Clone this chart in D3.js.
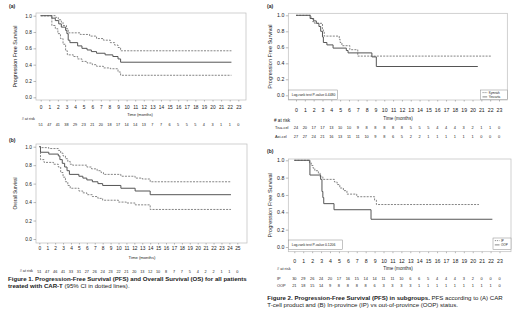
<!DOCTYPE html>
<html>
<head>
<meta charset="utf-8">
<script src="https://cdn.jsdelivr.net/npm/d3@7"></script>
<style>
  body { margin: 0; background: #fff; }
  svg text { font-family: "Liberation Sans", Arial, sans-serif; fill: #222; }
</style>
</head>
<body>
<svg id="chart" width="520" height="314"></svg>
<script>
// Kaplan-Meier steps: [month, survival], last pair marks the end of follow-up
const pfsAllEst = [[0, 1], [1.3, 0.97], [1.7, 0.94], [2.1, 0.9], [2.4, 0.86], [2.9, 0.82], [3.05, 0.78], [3.2, 0.7], [3.4, 0.67], [4.3, 0.63], [4.8, 0.6], [5.4, 0.58], [5.9, 0.56], [6.5, 0.54], [7.5, 0.52], [8.4, 0.5], [9.0, 0.47], [9.3, 0.43], [22.2, 0.43]]
const pfsAllUp = [[0, 1], [1.7, 0.98], [2.05, 0.95], [2.4, 0.92], [2.6, 0.88], [3.0, 0.84], [3.2, 0.79], [4.6, 0.77], [5.7, 0.75], [6.5, 0.72], [7.3, 0.7], [8.1, 0.67], [8.6, 0.64], [9.0, 0.61], [9.3, 0.57], [22.2, 0.57]]
const pfsAllLow = [[0, 1], [1.3, 0.88], [1.7, 0.84], [2.0, 0.78], [2.3, 0.72], [2.6, 0.65], [2.9, 0.57], [3.1, 0.52], [3.8, 0.5], [4.3, 0.47], [4.8, 0.44], [5.4, 0.42], [6.0, 0.4], [6.5, 0.38], [7.3, 0.36], [8.1, 0.35], [9.0, 0.31], [9.3, 0.27], [22.2, 0.27]]

const osAllEst = [[0, 1], [0.15, 0.94], [1.2, 0.92], [2.4, 0.9], [2.6, 0.86], [2.9, 0.82], [3.2, 0.78], [3.5, 0.74], [3.8, 0.7], [5.0, 0.68], [5.5, 0.66], [6.0, 0.64], [6.7, 0.62], [7.4, 0.6], [8.0, 0.58], [10.3, 0.55], [12.1, 0.52], [14.0, 0.48], [24.2, 0.48]]
const osAllUp = [[0, 1], [0.15, 0.99], [1.2, 0.98], [2.4, 0.96], [2.7, 0.93], [3.0, 0.9], [3.3, 0.87], [3.6, 0.84], [3.9, 0.81], [4.2, 0.8], [6.0, 0.78], [6.6, 0.76], [7.3, 0.74], [7.8, 0.72], [8.1, 0.7], [10.3, 0.68], [12.1, 0.66], [13.0, 0.65], [14.0, 0.62], [24.2, 0.62]]
const osAllLow = [[0, 1], [0.15, 0.86], [0.6, 0.83], [1.8, 0.81], [2.4, 0.78], [2.7, 0.72], [3.0, 0.67], [3.3, 0.62], [3.6, 0.58], [3.9, 0.55], [5.0, 0.52], [5.5, 0.5], [6.0, 0.48], [6.7, 0.46], [7.4, 0.44], [8.0, 0.42], [10.0, 0.4], [11.0, 0.39], [12.1, 0.37], [14.0, 0.32], [24.2, 0.32]]

const pfsKymriah = [[0, 1], [1.7, 0.96], [1.9, 0.92], [2.1, 0.9], [3.0, 0.83], [3.1, 0.79], [3.2, 0.74], [4.9, 0.7], [5.0, 0.66], [5.2, 0.62], [6.1, 0.57], [7.0, 0.49], [22.2, 0.49]]
const pfsYescarta = [[0, 1], [1.6, 0.96], [2.0, 0.93], [2.3, 0.9], [2.6, 0.86], [2.8, 0.8], [3.0, 0.73], [3.1, 0.66], [3.5, 0.63], [4.2, 0.59], [5.7, 0.56], [5.9, 0.53], [8.6, 0.48], [9.1, 0.36], [20.6, 0.36]]

const pfsIp = [[0, 1], [1.7, 0.97], [1.9, 0.94], [2.1, 0.91], [2.3, 0.88], [2.7, 0.85], [2.9, 0.81], [3.2, 0.78], [4.5, 0.75], [4.8, 0.72], [5.1, 0.68], [5.5, 0.65], [5.9, 0.61], [7.0, 0.58], [9.0, 0.54], [9.2, 0.49], [20.7, 0.49]]
const pfsOop = [[0, 1], [1.75, 0.83], [2.95, 0.78], [3.1, 0.64], [3.2, 0.57], [3.3, 0.5], [4.45, 0.43], [8.6, 0.32], [22.2, 0.32]]

// numbers at risk
const riskPfsAll = [51, 47, 41, 38, 29, 23, 21, 20, 18, 17, 14, 14, 13, 7, 7, 6, 5, 5, 5, 4, 3, 1, 1, 0]
const riskOsAll = [51, 47, 46, 41, 33, 31, 27, 26, 24, 23, 22, 21, 20, 13, 12, 10, 8, 7, 7, 5, 4, 2, 2, 1, 1, 0]
const riskTisa = [24, 20, 17, 17, 13, 10, 10, 9, 8, 8, 8, 8, 8, 5, 5, 5, 4, 4, 4, 3, 2, 1, 1, 0]
const riskAxi = [27, 27, 24, 21, 16, 13, 11, 11, 10, 9, 8, 6, 5, 2, 2, 1, 1, 1, 1, 1, 1, 0, 0, 0]
const riskIp = [30, 29, 26, 24, 20, 17, 16, 15, 14, 14, 11, 11, 10, 6, 6, 5, 4, 4, 4, 3, 2, 0, 0, 0]
const riskOop = [21, 18, 15, 14, 9, 8, 8, 8, 8, 6, 3, 3, 3, 3, 1, 1, 1, 1, 1, 1, 1, 1, 1, 0]

const yTicks = [0, 0.2, 0.4, 0.6, 0.8, 1.0]

const SOLID = '#555'
const DASHED = '#666'
const DASH = '2,1.2'

const svg = d3.select('#chart')

const panels = [
  {
    tag: '(a)', tagPos: [9, 6],
    frame: { x0: 36, x1: 246, y0: 13, y1: 100 },
    xMax: 23, xRange: [40.7, 238.3], yRange: [97.3, 15.7],
    yTitle: 'Progression Free Survival', yTitleX: 15, fontYTitle: 5.4, fontTick: 4.8,
    tickLabelY: 107, timeTitle: [140, 115], fontTitle: 4,
    riskTitle: { x: 35, y: 118.5, anchor: 'end' },
    rows: [{ values: riskPfsAll, y: 124.5 }], fontRisk: 3.8,
    curves: [
      { data: pfsAllEst, color: SOLID, width: 1 },
      { data: pfsAllUp, color: DASHED, width: 0.8, dash: DASH },
      { data: pfsAllLow, color: DASHED, width: 0.8, dash: DASH }
    ]
  },
  {
    tag: '(b)', tagPos: [9, 140],
    frame: { x0: 36, x1: 247, y0: 144, y1: 243 },
    xMax: 25, xRange: [39.3, 237.3], yRange: [239, 146.7],
    yTitle: 'Overall Survival', yTitleX: 15, fontYTitle: 4.6, fontTick: 4.8,
    tickLabelY: 248.3, timeTitle: [142, 258], fontTitle: 4.2,
    riskTitle: { x: 33, y: 270.5, anchor: 'end' },
    rows: [{ values: riskOsAll, y: 272 }], fontRisk: 3.8,
    curves: [
      { data: osAllEst, color: SOLID, width: 1 },
      { data: osAllUp, color: DASHED, width: 0.8, dash: DASH },
      { data: osAllLow, color: DASHED, width: 0.8, dash: DASH }
    ]
  },
  {
    tag: '(a)', tagPos: [267, 6],
    frame: { x0: 288.3, x1: 507.3, y0: 13.3, y1: 100 },
    xMax: 23, xRange: [296, 499], yRange: [95.3, 15.3],
    yTitle: 'Progression Free Survival', yTitleX: 270, fontYTitle: 5.6, fontTick: 5.2,
    tickLabelY: 110, timeTitle: [398, 118.3], fontTitle: 4.6,
    riskTitle: { x: 274, y: 120.7, anchor: 'start' },
    fontRiskTitle: 4.6,
    rows: [
      { label: 'Tisa-cel', values: riskTisa, y: 127.7 },
      { label: 'Axi-cel', values: riskAxi, y: 136.7 }
    ],
    rowLabelX: 275, fontRisk: 3.9,
    logRank: { text: 'Log-rank test P-value 0.4480', box: [288.3, 90, 337.3, 99.5] },
    legend: { box: [480.7, 90, 507.3, 99.5], items: [
      { label: 'Kymriah', dash: DASH, color: DASHED },
      { label: 'Yescarta', color: SOLID }
    ] },
    curves: [
      { data: pfsKymriah, color: DASHED, width: 0.8, dash: DASH },
      { data: pfsYescarta, color: SOLID, width: 1 }
    ]
  },
  {
    tag: '(b)', tagPos: [267, 151],
    frame: { x0: 288.3, x1: 511, y0: 159, y1: 251.7 },
    xMax: 23, xRange: [294.3, 499.5], yRange: [247, 160.3],
    yTitle: 'Progression Free Survival', yTitleX: 270, fontYTitle: 5.6, fontTick: 5.2,
    tickLabelY: 261, timeTitle: [398, 268.3], fontTitle: 4.6,
    riskTitle: { x: 277, y: 268.3, anchor: 'start' },
    rows: [
      { label: 'IP', values: riskIp, y: 278.3 },
      { label: 'OOP', values: riskOop, y: 285.7 }
    ],
    rowLabelX: 277, fontRisk: 3.9,
    logRank: { text: 'Log-rank test P-value 0.1206', box: [288.3, 240, 342.3, 249.5] },
    legend: { box: [493, 238, 511, 249.5], items: [
      { label: 'IP', dash: DASH, color: DASHED },
      { label: 'OOP', color: SOLID }
    ] },
    curves: [
      { data: pfsIp, color: DASHED, width: 0.8, dash: DASH },
      { data: pfsOop, color: SOLID, width: 1 }
    ]
  }
]

panels.forEach(drawPanel)

function drawPanel (p) {
  const g = svg.append('g')
  const f = p.frame
  const x = d3.scaleLinear().domain([0, p.xMax]).range(p.xRange)
  const y = d3.scaleLinear().domain([0, 1]).range(p.yRange)
  const months = d3.range(0, p.xMax + 1)

  g.append('text')
    .attr('x', p.tagPos[0]).attr('y', p.tagPos[1]).attr('dy', '0.35em')
    .style('font-size', '5px').style('font-weight', 'bold')
    .text(p.tag)

  g.append('rect')
    .attr('x', f.x0).attr('y', f.y0)
    .attr('width', f.x1 - f.x0).attr('height', f.y1 - f.y0)
    .attr('fill', 'none').attr('stroke', '#bdbdbd').attr('stroke-width', 0.7)

  const yAxis = g.append('g')
    .attr('transform', `translate(${f.x0},0)`)
    .call(d3.axisLeft(y).tickValues(yTicks).tickFormat(d3.format('.1f')).tickSize(2.5).tickPadding(1.5))
  yAxis.select('.domain').remove()
  yAxis.selectAll('line').attr('stroke', '#777').attr('stroke-width', 0.5)
  yAxis.selectAll('text').style('font-size', p.fontTick + 'px').attr('fill', '#222')

  const xAxis = g.append('g')
    .attr('transform', `translate(0,${f.y1})`)
    .call(d3.axisBottom(x).tickValues(months).tickFormat(d3.format('d')).tickSize(1.5))
  xAxis.select('.domain').remove()
  xAxis.selectAll('line').attr('stroke', '#777').attr('stroke-width', 0.5)
  xAxis.selectAll('text')
    .attr('y', p.tickLabelY - f.y1).attr('dy', '0.35em')
    .style('font-size', p.fontTick + 'px').attr('fill', '#222')

  g.append('text')
    .attr('transform', `translate(${p.yTitleX},${(f.y0 + f.y1) / 2}) rotate(-90)`)
    .attr('text-anchor', 'middle').attr('dy', '0.35em')
    .style('font-size', p.fontYTitle + 'px')
    .text(p.yTitle)

  g.append('text')
    .attr('x', p.timeTitle[0]).attr('y', p.timeTitle[1]).attr('dy', '0.35em')
    .attr('text-anchor', 'middle')
    .style('font-size', p.fontTitle + 'px')
    .text('Time (months)')

  g.append('text')
    .attr('x', p.riskTitle.x).attr('y', p.riskTitle.y).attr('dy', '0.35em')
    .attr('text-anchor', p.riskTitle.anchor)
    .style('font-size', (p.fontRiskTitle || p.fontRisk) + 'px')
    .text('# at risk')

  p.rows.forEach(row => {
    if (row.label) {
      g.append('text')
        .attr('x', p.rowLabelX).attr('y', row.y).attr('dy', '0.35em')
        .style('font-size', p.fontRisk + 'px')
        .text(row.label)
    }
    g.selectAll(null)
      .data(row.values)
      .enter()
      .append('text')
      .attr('x', (d, i) => x(i)).attr('y', row.y).attr('dy', '0.35em')
      .attr('text-anchor', 'middle')
      .style('font-size', p.fontRisk + 'px')
      .text(d => d)
  })

  const line = d3.line()
    .x(d => x(d[0]))
    .y(d => y(d[1]))
    .curve(d3.curveStepAfter)

  p.curves.forEach(c => {
    g.append('path')
      .datum(c.data)
      .attr('d', line)
      .attr('fill', 'none')
      .attr('stroke', c.color)
      .attr('stroke-width', c.width)
      .attr('stroke-dasharray', c.dash || null)
  })

  if (p.logRank) {
    const b = p.logRank.box
    g.append('rect')
      .attr('x', b[0]).attr('y', b[1]).attr('width', b[2] - b[0]).attr('height', b[3] - b[1])
      .attr('fill', '#fff').attr('stroke', '#888').attr('stroke-width', 0.5)
    g.append('text')
      .attr('x', b[0] + 3.5).attr('y', (b[1] + b[3]) / 2).attr('dy', '0.35em')
      .style('font-size', '3.4px')
      .text(p.logRank.text)
  }

  if (p.legend) {
    const b = p.legend.box
    g.append('rect')
      .attr('x', b[0]).attr('y', b[1]).attr('width', b[2] - b[0]).attr('height', b[3] - b[1])
      .attr('fill', '#fff').attr('stroke', '#888').attr('stroke-width', 0.5)
    p.legend.items.forEach((item, i) => {
      const ly = b[1] + 2.6 + i * 4.3
      g.append('line')
        .attr('x1', b[0] + 1.8).attr('x2', b[0] + 6.5)
        .attr('y1', ly).attr('y2', ly)
        .attr('stroke', item.color).attr('stroke-width', 0.7)
        .attr('stroke-dasharray', item.dash ? '1.2,0.8' : null)
      g.append('text')
        .attr('x', b[0] + 8).attr('y', ly).attr('dy', '0.35em')
        .style('font-size', '3px')
        .text(item.label)
    })
  }
}

// captions
const cap1 = svg.append('text').attr('x', 8).attr('y', 279.3).attr('dy', '0.35em').style('font-size', '6.1px')
cap1.append('tspan').style('font-weight', 'bold')
  .text('Figure 1. Progression-Free Survival (PFS) and Overall Survival (OS) for all patients')
const cap1b = svg.append('text').attr('x', 8).attr('y', 286.2).attr('dy', '0.35em').style('font-size', '6.1px')
cap1b.append('tspan').style('font-weight', 'bold').text('treated with CAR-T')
cap1b.append('tspan').text(' (95% CI in dotted lines).')

const cap2 = svg.append('text').attr('x', 267.3).attr('y', 298.3).attr('dy', '0.35em').style('font-size', '6.1px')
cap2.append('tspan').style('font-weight', 'bold').text('Figure 2. Progression-Free Survival (PFS) in subgroups.')
cap2.append('tspan').text(' PFS according to (A) CAR')
svg.append('text').attr('x', 267.3).attr('y', 305.2).attr('dy', '0.35em').style('font-size', '6.1px')
  .text('T-cell product and (B) In-province (IP) vs out-of-province (OOP) status.')
</script>
</body>
</html>
